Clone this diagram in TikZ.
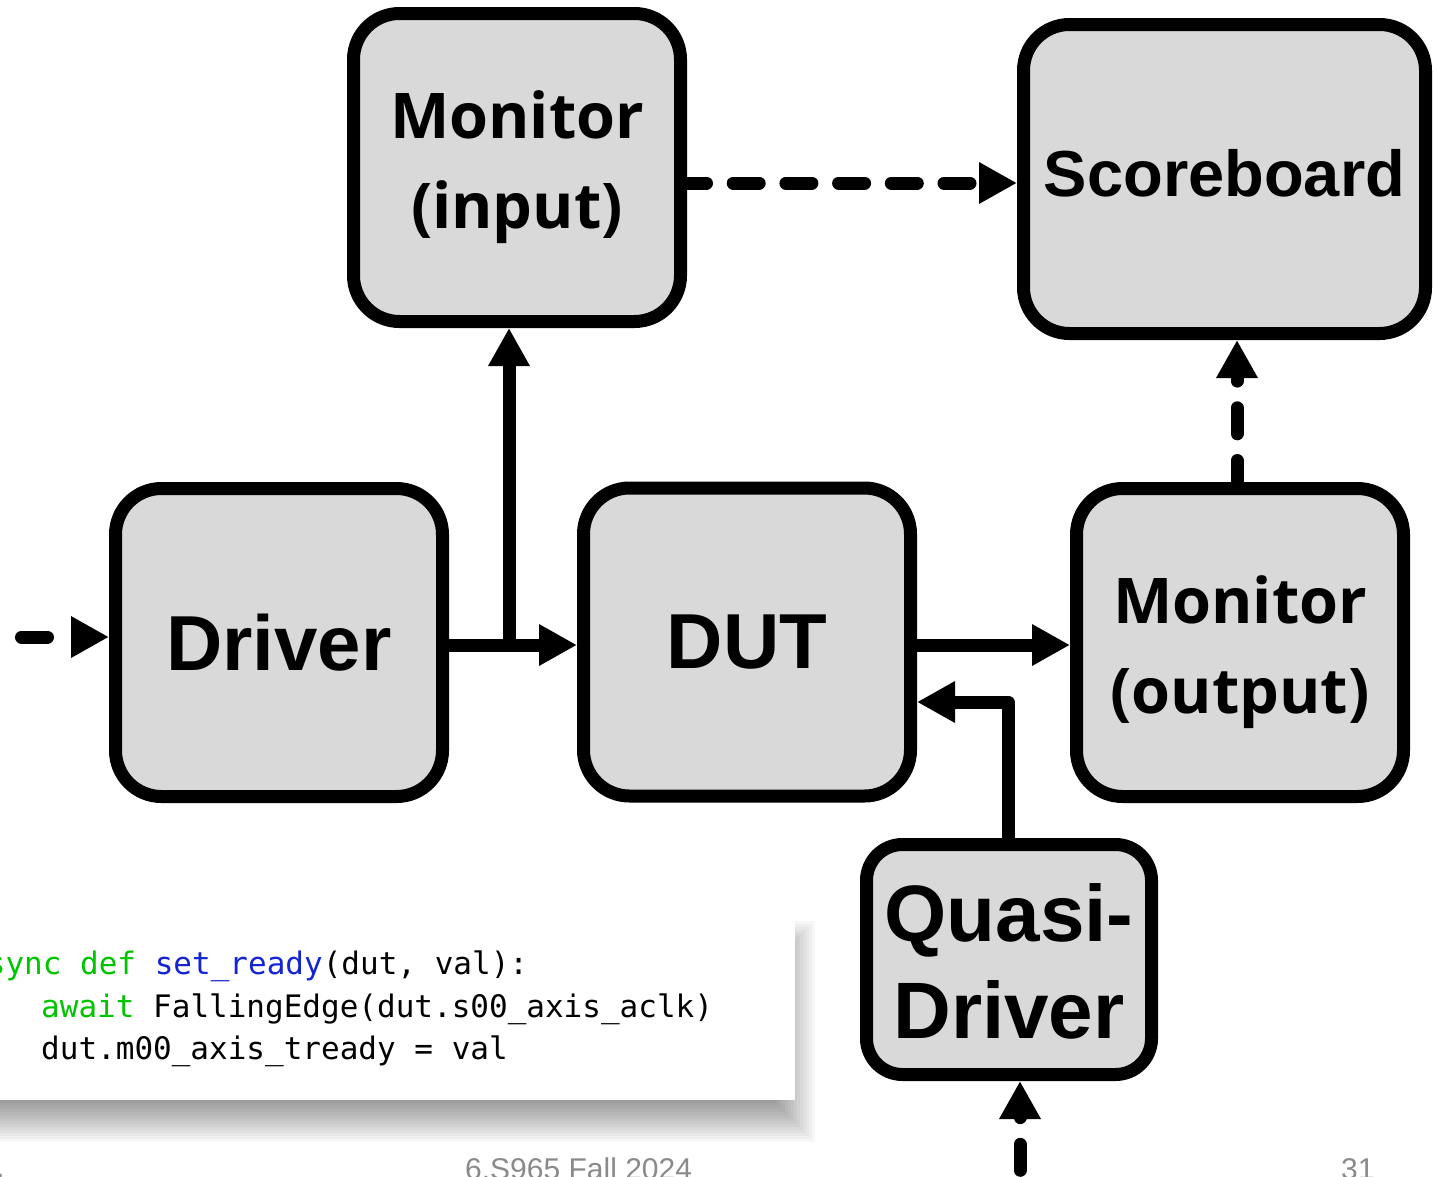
\documentclass[tikz,border=0pt]{standalone}
\usepackage{fontspec}
\setmainfont{Liberation Sans}
\newfontfamily\humsans{Open Sans}
\newfontfamily\codefont{DejaVu Sans Mono}
\usetikzlibrary{arrows.meta}
\definecolor{boxgray}{HTML}{D9D9D9}
\definecolor{kwgreen}{HTML}{00C400}
\definecolor{fnblue}{HTML}{1424D2}
\definecolor{footgray}{HTML}{8A8A8A}

\begin{document}
\begin{tikzpicture}[x=1pt,y=-1pt,
  block/.style={draw=black, fill=boxgray, line width=13pt, rounded corners=46pt,
    inner sep=0pt, minimum width=327pt, minimum height=308pt},
  blocktext/.style={align=center, inner sep=0pt,
    font=\bfseries\fontsize{78pt}{90pt}\selectfont},
  montext/.style={align=center, inner sep=0pt,
    font=\humsans\bfseries\fontsize{63pt}{90pt}\selectfont},
  tip/.style={-{Triangle[length=38pt,width=39pt]}},
  arr/.style={line width=13pt, tip},
  dsh/.style={line width=13pt, line cap=round, dash pattern=on 26pt off 26.7pt, tip},
  codeline/.style={anchor=base west, inner sep=0pt,
    font=\codefont\fontsize{31pt}{31pt}\selectfont\frenchspacing},
  foot/.style={anchor=base west, inner sep=0pt, text=footgray,
    font=\fontsize{30pt}{30pt}\selectfont}]

\useasboundingbox (0,0) rectangle (1433,1176);
\fill[white] (0,0) rectangle (1433,1176);

% code listing with its soft drop shadow
\foreach \k in {0,...,13}
  \fill[black, opacity=0.03] ({-30-3*\k}, {960-3*\k}) rectangle ({776+3*\k}, {1103+3*\k});
\node[fill=white, inner sep=0pt, anchor=north west, minimum width=815pt, minimum height=185pt] (codebox) at (-20,915) {};
\node[codeline] (code1) at (-32,974) {\textcolor{kwgreen}{async def} \textcolor{fnblue}{set\_ready}(dut, val):};
\node[codeline] (code2) at (41,1017) {\textcolor{kwgreen}{await} FallingEdge(dut.s00\_axis\_aclk)};
\node[codeline] (code3) at (41,1059) {dut.m00\_axis\_tready = val};

% blocks, each with its centred caption
\node[block, label={[name=moninlbl, montext]center:Monitor\\(input)}] (monin) at (517,167.5) {};
\node[block, minimum width=402pt, minimum height=309pt,
  label={[name=scorelbl, blocktext, font=\bfseries\fontsize{65pt}{75pt}\selectfont, yshift=6pt]center:Scoreboard}] (score) at (1224.5,179) {};
\node[block, label={[name=driverlbl, blocktext]center:Driver}] (driver) at (279,642.5) {};
\node[block, label={[name=dutlbl, blocktext]center:DUT}] (dut) at (747,642) {};
\node[block, label={[name=monoutlbl, montext, yshift=-10pt]center:Monitor\\(output)}] (monout) at (1240,642.5) {};
\node[block, rounded corners=36pt, minimum width=285pt, minimum height=230pt,
  label={[name=quasilbl, blocktext, font=\bfseries\fontsize{80pt}{97pt}\selectfont, yshift=-2pt]center:Quasi-\\Driver}] (quasi) at (1009,959.5) {};

% connectors
\coordinate (inL) at (21.5,637);
\coordinate (row) at (0,645);
\coordinate (tap) at (509,645);
\coordinate (sbrow) at (0,183);
\coordinate (qbend) at (1008,702);
\coordinate (vcol) at (1237,0);
\coordinate (qin) at (1020,1223);

\draw[dsh] (inL) -- (inL -| driver.west);
\draw[arr] (driver.east |- row) -- (dut.west |- row);
\draw[arr] (tap) -- (tap |- monin.south);
\draw[dsh, dash phase=6.5pt] (monin.east |- sbrow) -- (score.west |- sbrow);
\draw[arr] (dut.east |- row) -- (monout.west |- row);
\draw[arr, line join=round] (quasi.north -| qbend) -- (qbend) -- (dut.east |- qbend);
\draw[dsh, dash phase=4.5pt] (monout.north -| vcol) -- (score.south -| vcol);
\draw[dsh] (qin) -- (qin |- quasi.south);

% footer
\node[foot] (dot) at (-4,1177) {.};
\node[foot] (course) at (465,1179) {6.S965 Fall 2024};
\node[foot] (page) at (1341,1179) {31};
\end{tikzpicture}
\end{document}
